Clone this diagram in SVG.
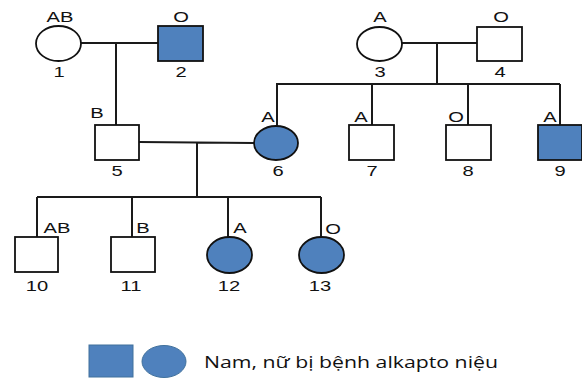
<svg xmlns="http://www.w3.org/2000/svg" width="582" height="378" viewBox="0 0 582 378">
<style>
.bg{fill:#fff}
.s{fill:#fff;stroke:#111;stroke-width:1.8}
.a{fill:#4F81BD;stroke:#111;stroke-width:1.8}
.lg{fill:#4F81BD;stroke:#41719C;stroke-width:1}
.c{fill:none;stroke:#1a1a1a;stroke-width:2}
text{font-family:"Liberation Sans",Arial,sans-serif;font-size:15.5px;fill:#111;text-anchor:middle}
.leg{font-family:"Open Sans","Liberation Sans",sans-serif;font-size:17px;text-anchor:start}
</style>
<rect class="bg" x="0" y="0" width="582" height="378"/>
<g id="connectors">
<path class="c" d="M81 43H158M116 43V125M402 43H477M437 43V84M276 84H560M277 84V126M372 84V125M468 84V125M560 84V125M139 142L254 143M197 143V197M37 197H321M37 197V237M132 197V237M228 197V237M321 197V237"/>
</g>
<g id="n1"><ellipse class="s" cx="58.5" cy="43.5" rx="22.5" ry="17.5"/><text transform="translate(60,22) scale(1.3,1)">AB</text><text transform="translate(59,77) scale(1.3,1)">1</text></g>
<g id="n2"><rect class="a" x="158" y="26" width="45" height="35"/><text transform="translate(181,22) scale(1.3,1)">O</text><text transform="translate(181,77) scale(1.3,1)">2</text></g>
<g id="n3"><ellipse class="s" cx="379.5" cy="44" rx="22.5" ry="17"/><text transform="translate(380,22) scale(1.3,1)">A</text><text transform="translate(380,77) scale(1.3,1)">3</text></g>
<g id="n4"><rect class="s" x="477" y="27" width="45" height="34"/><text transform="translate(501,22) scale(1.3,1)">O</text><text transform="translate(500,77) scale(1.3,1)">4</text></g>
<g id="n5"><rect class="s" x="95" y="125" width="44" height="35"/><text transform="translate(97,118) scale(1.3,1)">B</text><text transform="translate(117,176) scale(1.3,1)">5</text></g>
<g id="n6"><ellipse class="a" cx="276" cy="143" rx="22" ry="17"/><text transform="translate(268,122) scale(1.3,1)">A</text><text transform="translate(278,176) scale(1.3,1)">6</text></g>
<g id="n7"><rect class="s" x="349" y="125" width="45" height="35"/><text transform="translate(361,122) scale(1.3,1)">A</text><text transform="translate(372,176) scale(1.3,1)">7</text></g>
<g id="n8"><rect class="s" x="446" y="125" width="45" height="35"/><text transform="translate(456,122) scale(1.3,1)">O</text><text transform="translate(468,176) scale(1.3,1)">8</text></g>
<g id="n9"><rect class="a" x="538" y="125" width="44" height="35"/><text transform="translate(550,122) scale(1.3,1)">A</text><text transform="translate(560,176) scale(1.3,1)">9</text></g>
<g id="n10"><rect class="s" x="15" y="237" width="43" height="35"/><text transform="translate(57,233) scale(1.3,1)">AB</text><text transform="translate(37,291) scale(1.3,1)">10</text></g>
<g id="n11"><rect class="s" x="111" y="237" width="44" height="35"/><text transform="translate(143,233) scale(1.3,1)">B</text><text transform="translate(131,291) scale(1.3,1)">11</text></g>
<g id="n12"><ellipse class="a" cx="229.5" cy="255" rx="22.5" ry="18"/><text transform="translate(240,233) scale(1.3,1)">A</text><text transform="translate(229,291) scale(1.3,1)">12</text></g>
<g id="n13"><ellipse class="a" cx="321.5" cy="255" rx="22.5" ry="18"/><text transform="translate(333,234) scale(1.3,1)">O</text><text transform="translate(320,291) scale(1.3,1)">13</text></g>
<g id="legend"><rect class="lg" x="89" y="345" width="44" height="32"/><ellipse class="lg" cx="164" cy="361.5" rx="22" ry="16"/><text class="leg" x="204" y="368" textLength="294" lengthAdjust="spacingAndGlyphs">Nam, nữ bị bệnh alkapto niệu</text></g>
</svg>
